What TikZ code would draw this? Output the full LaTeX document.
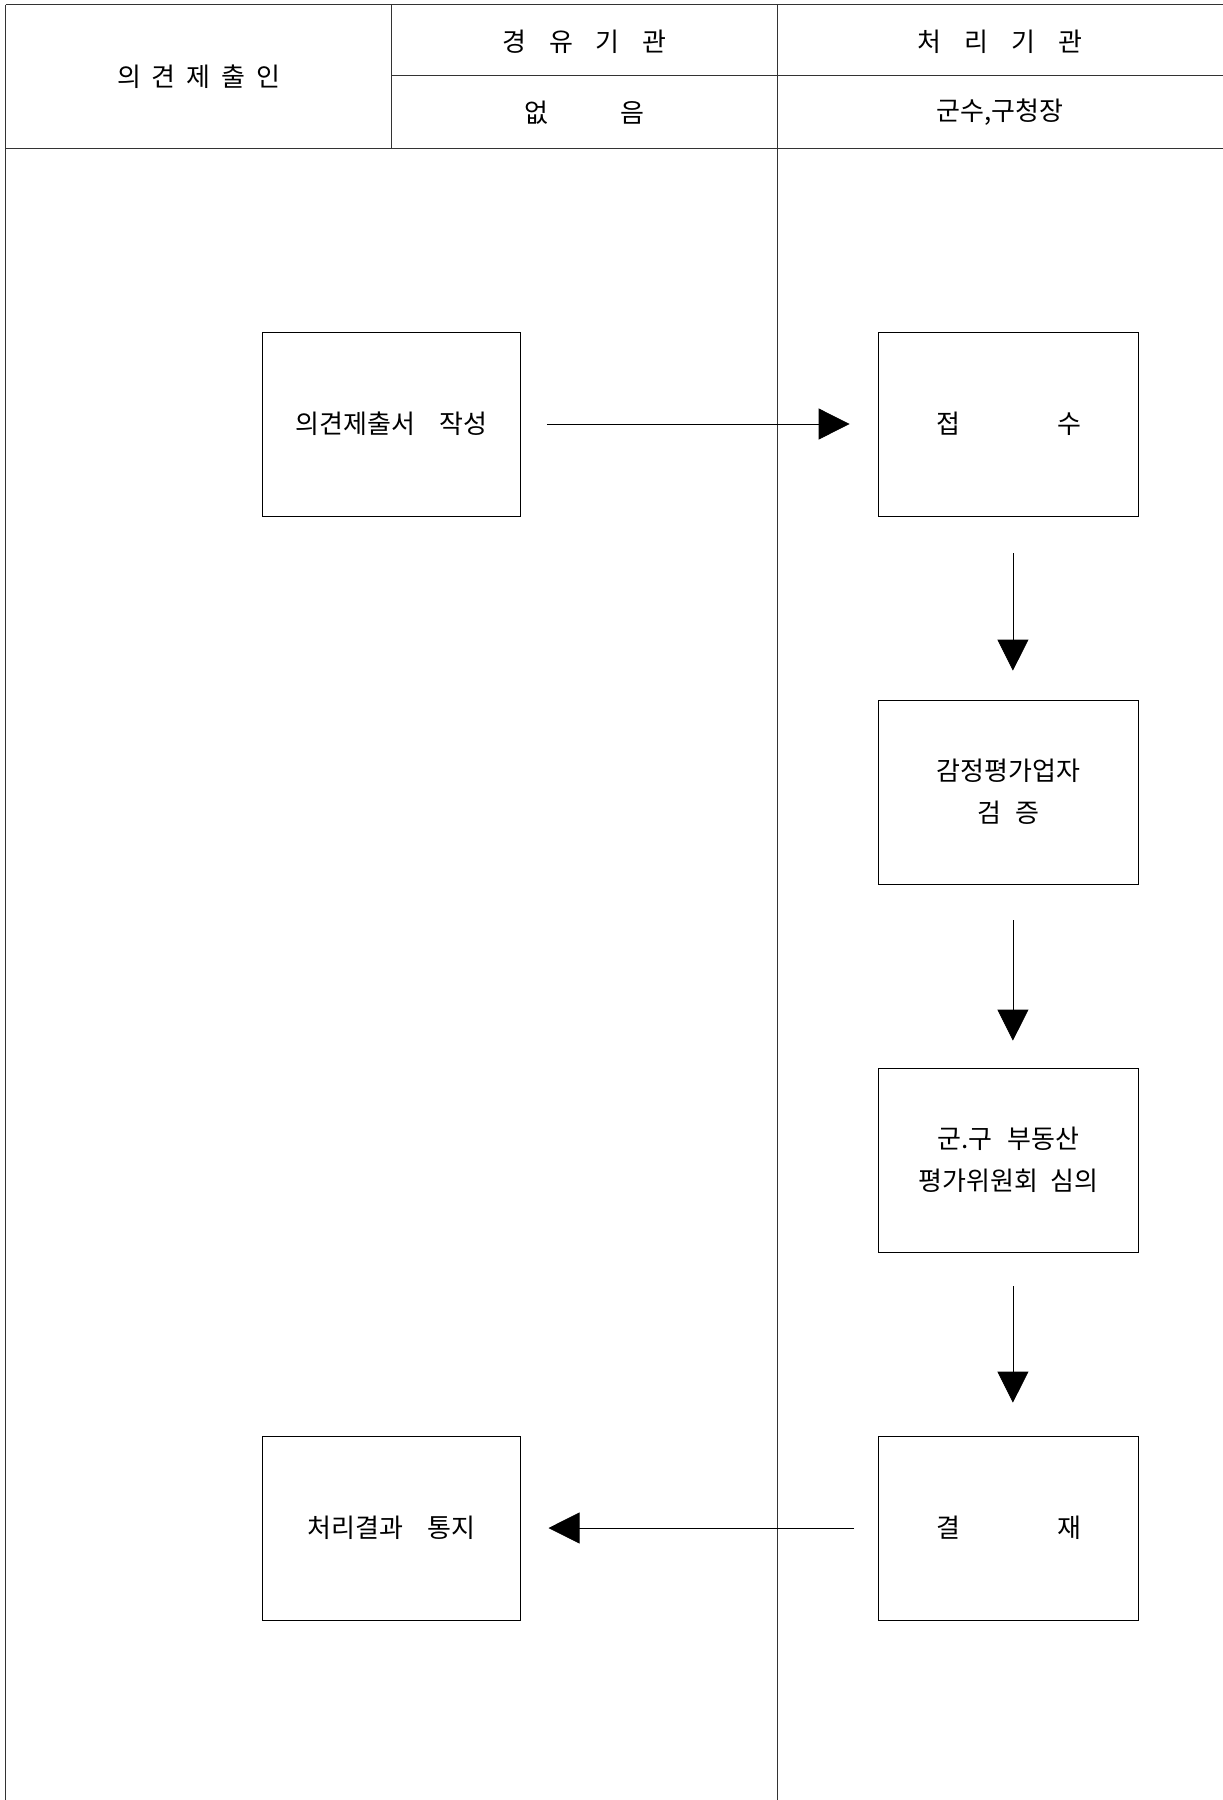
\documentclass[tikz,border=0pt]{standalone}
\usepackage{fontspec}
\setmainfont{Noto Sans CJK KR}
\usetikzlibrary{arrows.meta}
\newcommand{\kgap}[1]{\hspace{#1pt}}
\begin{document}
\begin{tikzpicture}[x=1pt,y=-1pt,
  rule/.style={line width=0.8pt, black!80},
  box/.style={draw, line width=0.8pt, inner sep=0pt, minimum height=184pt,
    align=center, font=\fontsize{26}{42}\selectfont},
  hdr/.style={inner sep=0pt, font=\fontsize{26}{30}\selectfont},
  flow/.style={-{Triangle[length=31pt,width=31pt]}, line width=0.8pt}]
\useasboundingbox (0,0) rectangle (1223,1800);
% table frame
\draw[rule] (5.7,4.6) -- (1223,4.6);
\draw[rule] (391.6,75.8) -- (1223,75.8);
\draw[rule] (5.7,148) -- (1223,148);
\draw[rule] (5.7,4.6) -- (5.7,1800);
\draw[rule] (391.6,4.6) -- (391.6,148);
\draw[rule] (777.5,4.6) -- (777.5,1800);
% header texts
\node[hdr] (h1) at (198.6,77) {의 \kgap{5}견 \kgap{5}제 \kgap{5}출 \kgap{5}인};
\node[hdr] (h2) at (584.5,42) {경 \kgap{17}유 \kgap{17}기 \kgap{17}관};
\node[hdr] (h3) at (1000,42) {처 \kgap{17}리 \kgap{17}기 \kgap{17}관};
\node[hdr] (h4) at (584.5,112.5) {없 \kgap{67}음};
\node[hdr] (h5) at (1000,112.5) {군수,구청장};
% boxes
\node[box, minimum width=258pt] (a1) at (391.5,424) {\raisebox{-1.5pt}{의견제출서 \kgap{18}작성}};
\node[box, minimum width=260pt] (b1) at (1008.6,424) {\raisebox{-1.5pt}{접 \kgap{91}수}};
\node[box, minimum width=260pt] (b2) at (1008.6,792) {감정평가업자\\검 \kgap{8}증};
\node[box, minimum width=260pt] (b3) at (1008.6,1160) {군.구 \kgap{9}부동산\\평가위원회 \kgap{6}심의};
\node[box, minimum width=260pt] (b4) at (1008.6,1528) {\raisebox{-1.5pt}{결 \kgap{91}재}};
\node[box, minimum width=258pt] (a2) at (391.5,1528) {\raisebox{-1.5pt}{처리결과 \kgap{18}통지}};
% connectors
\draw[flow, shorten <=26pt, shorten >=28.6pt] (a1.east) -- (b1.west);
\draw[flow, shorten <=37pt, shorten >=29pt] ([xshift=4.3pt]b1.south) -- ([xshift=4.3pt]b2.north);
\draw[flow, shorten <=36pt, shorten >=27pt] ([xshift=4.3pt]b2.south) -- ([xshift=4.3pt]b3.north);
\draw[flow, shorten <=34pt, shorten >=33pt] ([xshift=4.3pt]b3.south) -- ([xshift=4.3pt]b4.north);
\draw[flow, shorten <=24pt, shorten >=27.6pt] (b4.west) -- (a2.east);
\end{tikzpicture}
\end{document}
